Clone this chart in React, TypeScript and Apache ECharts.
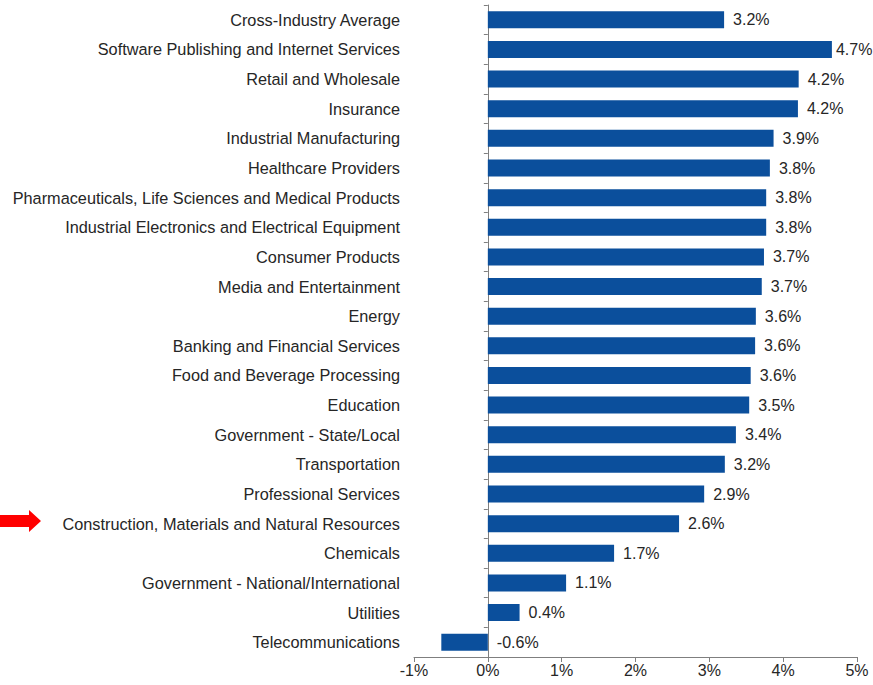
import React, { useEffect, useRef } from "react";
import * as echarts from "echarts";

const categories = [
  "Cross-Industry Average",
  "Software Publishing and Internet Services",
  "Retail and Wholesale",
  "Insurance",
  "Industrial Manufacturing",
  "Healthcare Providers",
  "Pharmaceuticals, Life Sciences and Medical Products",
  "Industrial Electronics and Electrical Equipment",
  "Consumer Products",
  "Media and Entertainment",
  "Energy",
  "Banking and Financial Services",
  "Food and Beverage Processing",
  "Education",
  "Government - State/Local",
  "Transportation",
  "Professional Services",
  "Construction, Materials and Natural Resources",
  "Chemicals",
  "Government - National/International",
  "Utilities",
  "Telecommunications",
];

const values = [
  3.2, 4.66, 4.21, 4.2, 3.87, 3.82, 3.77, 3.77, 3.74, 3.71, 3.63, 3.62, 3.56,
  3.54, 3.36, 3.21, 2.93, 2.59, 1.71, 1.06, 0.43, -0.63,
];

const xTicks = { min: -1, max: 5, interval: 1 };

export default function App() {
  const ref = useRef<HTMLDivElement>(null);
  useEffect(() => {
    if (!ref.current) return;
    const chart = echarts.init(ref.current, null, { renderer: "svg" });
    const font = "'Liberation Sans', Arial, sans-serif";
    const maxV = Math.max(...values);
    const data = values.map((v) =>
      v === maxV ? { value: v, label: { distance: 4 } } : { value: v }
    );
    chart.setOption({
      animation: false,
      backgroundColor: "#ffffff",
      grid: {
        left: 414,
        right: 16,
        top: 5,
        bottom: 28,
        containLabel: false,
        outerBoundsMode: "none",
      },
      xAxis: {
        type: "value",
        min: xTicks.min,
        max: xTicks.max,
        interval: xTicks.interval,
        splitLine: { show: false },
        axisLine: { show: true, lineStyle: { color: "#7f7f7f", width: 1 } },
        axisTick: { show: true, length: 5, lineStyle: { color: "#7f7f7f" } },
        axisLabel: {
          formatter: "{value}%",
          color: "#262626",
          fontSize: 16,
          fontFamily: font,
          margin: 5,
        },
      },
      yAxis: {
        type: "category",
        inverse: true,
        data: categories,
        axisLine: { show: true, onZero: true, lineStyle: { color: "#7f7f7f", width: 1 } },
        axisTick: { show: true, length: 4, lineStyle: { color: "#7f7f7f" } },
        axisLabel: {
          color: "#262626",
          fontSize: 16.3,
          fontFamily: font,
          margin: 14,
        },
      },
      series: [
        {
          type: "bar",
          data,
          barWidth: 17,
          itemStyle: { color: "#0B4F9C" },
          label: {
            show: true,
            position: "right",
            distance: 9,
            color: "#262626",
            fontSize: 16,
            fontFamily: font,
            formatter: (p: any) => `${Number(p.value).toFixed(1)}%`,
          },
        },
      ],
      graphic: [
        {
          type: "polygon",
          shape: {
            points: [
              [0, 515],
              [29, 515],
              [29, 510],
              [41, 521],
              [29, 532],
              [29, 527],
              [0, 527],
            ],
          },
          style: { fill: "#FF0000" },
        },
      ],
    });
    return () => chart.dispose();
  }, []);
  return <div ref={ref} style={{ width: 873, height: 685, position: "absolute", left: 0, top: 0 }} />;
}
